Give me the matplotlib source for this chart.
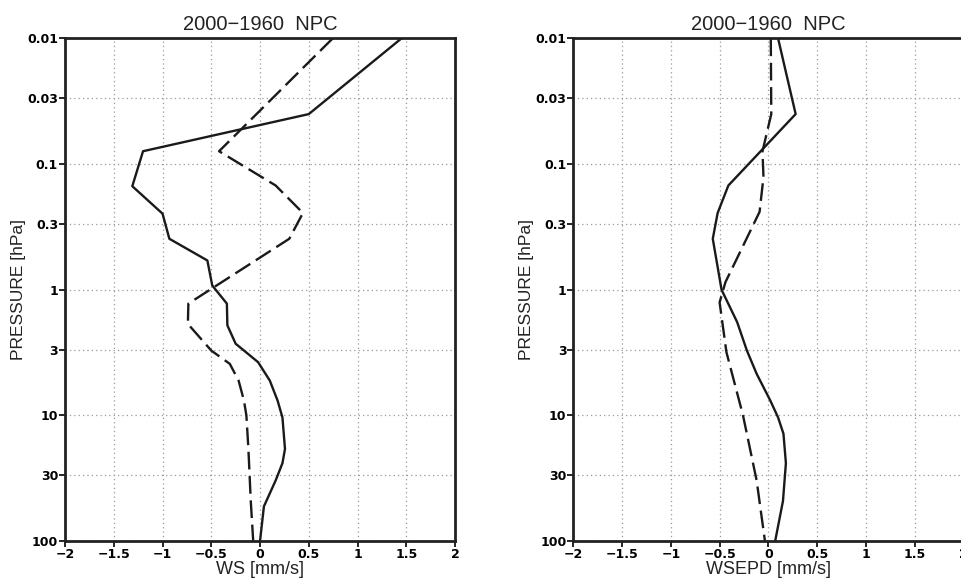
import matplotlib
matplotlib.use('Agg')
import matplotlib.pyplot as plt
from matplotlib.ticker import FixedLocator, NullLocator

# left panel: WS
ws_solid_p = [0.01, 0.04, 0.079, 0.150, 0.248, 0.393, 0.585, 0.925, 1.29, 1.92, 2.69,
              3.77, 5.28, 7.62, 10.4, 18.5, 24, 33, 53, 100]
ws_solid = [1.45, 0.50, -1.20, -1.31, -1.00, -0.93, -0.54, -0.49, -0.34, -0.335, -0.25,
            -0.02, 0.10, 0.18, 0.23, 0.256, 0.23, 0.16, 0.04, 0.0]
ws_dash_p = [0.01, 0.079, 0.148, 0.245, 0.393, 1.29, 1.87, 3.05, 3.89, 5.28, 7.62, 10,
             18, 48, 100]
ws_dash = [0.745, -0.42, 0.16, 0.44, 0.30, -0.735, -0.74, -0.50, -0.31, -0.22, -0.165,
           -0.14, -0.12, -0.095, -0.07]

# right panel: WSEPD
ep_solid_p = [0.01, 0.04, 0.148, 0.245, 0.393, 1.0, 1.81, 3.05, 4.67, 7.62, 10.4, 14,
              24, 48, 100]
ep_solid = [0.10, 0.28, -0.41, -0.52, -0.57, -0.48, -0.32, -0.22, -0.12, 0.02, 0.10,
            0.155, 0.18, 0.15, 0.07]
ep_dash_p = [0.01, 0.04, 0.079, 0.127, 0.24, 0.87, 1.26, 3.14, 10, 33, 100]
ep_dash = [0.025, 0.03, -0.06, -0.05, -0.09, -0.44, -0.50, -0.43, -0.26, -0.12, -0.035]

x_ticks = [-2, -1.5, -1, -0.5, 0, 0.5, 1, 1.5, 2]
x_labels = ['\u22122', '\u22121.5', '\u22121', '\u22120.5', '0', '0.5', '1', '1.5', '2']
p_ticks = [0.01, 0.03, 0.1, 0.3, 1, 3, 10, 30, 100]
p_labels = ['0.01', '0.03', '0.1', '0.3', '1', '3', '10', '30', '100']

plt.rcParams['font.family'] = ['Liberation Sans', 'DejaVu Sans']

fig = plt.figure(figsize=(9.62, 5.79), dpi=100)
ax1 = fig.add_axes([0.0676, 0.0656, 0.4054, 0.868])
ax2 = fig.add_axes([0.596, 0.0656, 0.4054, 0.868])

panels = [
    (ax1, ws_solid, ws_solid_p, ws_dash, ws_dash_p, 'WS [mm/s]'),
    (ax2, ep_solid, ep_solid_p, ep_dash, ep_dash_p, 'WSEPD [mm/s]'),
]

for ax, s, sp, d, dp, xlab in panels:
    ax.plot(s, sp, color='#1a1a1a', linewidth=1.7, linestyle='-')
    ax.plot(d, dp, color='#1a1a1a', linewidth=1.7, linestyle=(0, (7.5, 2.8)))
    ax.set_yscale('log')
    ax.set_ylim(100, 0.01)
    ax.set_xlim(-2, 2)
    ax.yaxis.set_major_locator(FixedLocator(p_ticks))
    ax.yaxis.set_minor_locator(NullLocator())
    ax.set_yticklabels(p_labels, fontweight='bold', fontsize=9, family='DejaVu Sans')
    ax.set_xticks(x_ticks)
    ax.set_xticklabels(x_labels, fontweight='bold', fontsize=9, family='DejaVu Sans')
    ax.grid(True, color='#999999', linestyle=(0, (1, 2.5)), linewidth=0.9)
    ax.tick_params(direction='out', length=4, width=1.2, pad=1)
    for sp_ in ax.spines.values():
        sp_.set_linewidth(2)
        sp_.set_color('#222222')
    ax.set_title('2000\u22121960  NPC', fontsize=14.5, pad=6, color='#222222')
    ax.set_xlabel(xlab, fontsize=13, labelpad=0, color='#222222')
    ax.set_ylabel('PRESSURE [hPa]', fontsize=12.5, labelpad=1, color='#222222')

fig.savefig('out.png', dpi=100)
